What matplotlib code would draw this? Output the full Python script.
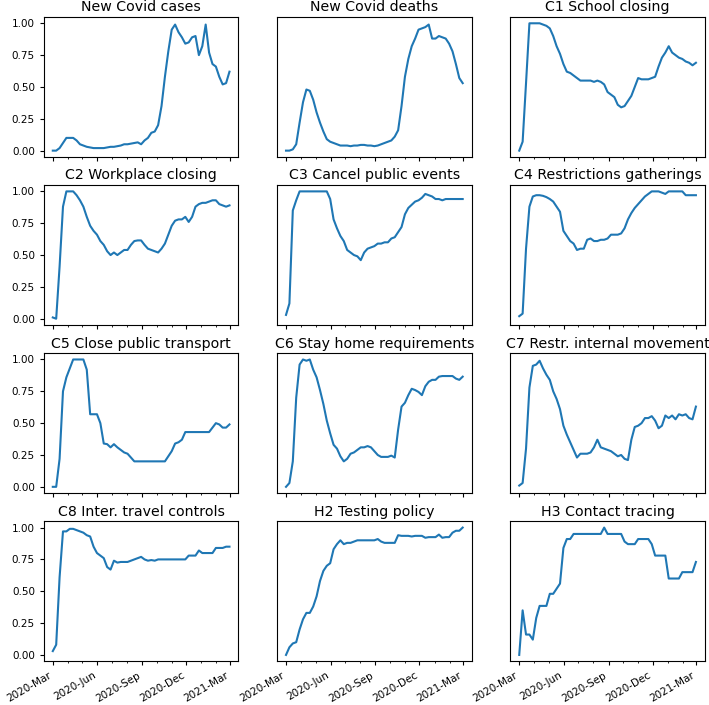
import matplotlib
matplotlib.use("Agg")
import matplotlib.pyplot as plt
import matplotlib.dates as mdates
import pandas as pd

# weekly samples, 2020-03-01 .. 2021-02-28
dates = pd.date_range("2020-03-01", periods=53, freq="7D")

new_cases = [0.00, 0.00, 0.02, 0.06, 0.10, 0.10, 0.10, 0.08, 0.05, 0.04,
             0.03, 0.025, 0.02, 0.02, 0.02, 0.02, 0.025, 0.03, 0.03, 0.035,
             0.04, 0.05, 0.05, 0.055, 0.06, 0.065, 0.05, 0.08, 0.10, 0.14,
             0.15, 0.20, 0.35, 0.58, 0.78, 0.95, 0.99, 0.93, 0.89, 0.84,
             0.85, 0.89, 0.90, 0.75, 0.82, 0.99, 0.77, 0.68, 0.66, 0.58,
             0.52, 0.53, 0.62]
new_deaths = [0.00, 0.00, 0.01, 0.05, 0.22, 0.38, 0.48, 0.47, 0.40, 0.30,
              0.22, 0.15, 0.09, 0.07, 0.06, 0.05, 0.04, 0.04, 0.04, 0.035,
              0.04, 0.04, 0.045, 0.045, 0.04, 0.04, 0.035, 0.04, 0.05, 0.06,
              0.07, 0.08, 0.11, 0.16, 0.35, 0.58, 0.72, 0.82, 0.88, 0.95,
              0.96, 0.97, 0.99, 0.88, 0.88, 0.90, 0.89, 0.88, 0.84, 0.78,
              0.68, 0.57, 0.53]
c1_school = [0.00, 0.07, 0.53, 1.00, 1.00, 1.00, 1.00, 0.99, 0.98, 0.96,
             0.90, 0.82, 0.76, 0.68, 0.62, 0.61, 0.59, 0.57, 0.55, 0.55,
             0.55, 0.55, 0.54, 0.55, 0.54, 0.52, 0.46, 0.44, 0.42, 0.36,
             0.34, 0.35, 0.39, 0.43, 0.50, 0.57, 0.56, 0.56, 0.56, 0.57,
             0.58, 0.66, 0.73, 0.77, 0.82, 0.77, 0.75, 0.73, 0.72, 0.70,
             0.69, 0.67, 0.69]
c2_workplace = [0.01, 0.00, 0.41, 0.88, 1.00, 1.00, 1.00, 0.97, 0.93, 0.88,
                0.80, 0.73, 0.69, 0.66, 0.61, 0.58, 0.53, 0.50, 0.52, 0.50,
                0.52, 0.54, 0.54, 0.58, 0.61, 0.615, 0.615, 0.58, 0.55, 0.54,
                0.53, 0.52, 0.55, 0.59, 0.66, 0.73, 0.77, 0.78, 0.78, 0.80,
                0.76, 0.80, 0.88, 0.90, 0.91, 0.91, 0.92, 0.93, 0.93, 0.90,
                0.89, 0.88, 0.89]
c3_events = [0.03, 0.12, 0.85, 0.93, 1.00, 1.00, 1.00, 1.00, 1.00, 1.00,
             1.00, 1.00, 1.00, 0.94, 0.78, 0.71, 0.65, 0.61, 0.54, 0.52,
             0.50, 0.49, 0.46, 0.52, 0.55, 0.56, 0.57, 0.59, 0.59, 0.60,
             0.60, 0.63, 0.64, 0.68, 0.72, 0.82, 0.87, 0.895, 0.92, 0.93,
             0.95, 0.98, 0.97, 0.96, 0.94, 0.94, 0.93, 0.94, 0.94, 0.94,
             0.94, 0.94, 0.94]
c4_gatherings = [0.02, 0.04, 0.55, 0.88, 0.96, 0.97, 0.97, 0.965, 0.955, 0.94,
                 0.92, 0.88, 0.84, 0.69, 0.65, 0.61, 0.59, 0.54, 0.55, 0.55,
                 0.62, 0.63, 0.61, 0.61, 0.62, 0.62, 0.63, 0.66, 0.66, 0.66,
                 0.67, 0.71, 0.78, 0.83, 0.87, 0.90, 0.93, 0.96, 0.98, 1.00,
                 1.00, 1.00, 0.99, 0.98, 1.00, 1.00, 1.00, 1.00, 1.00, 0.97,
                 0.97, 0.97, 0.97]
c5_transport = [0.00, 0.00, 0.22, 0.75, 0.86, 0.93, 1.00, 1.00, 1.00, 1.00,
                0.92, 0.57, 0.57, 0.57, 0.50, 0.34, 0.335, 0.31, 0.335, 0.31,
                0.29, 0.27, 0.26, 0.23, 0.20, 0.20, 0.20, 0.20, 0.20, 0.20,
                0.20, 0.20, 0.20, 0.20, 0.24, 0.28, 0.34, 0.35, 0.37, 0.43,
                0.43, 0.43, 0.43, 0.43, 0.43, 0.43, 0.43, 0.465, 0.50, 0.49,
                0.465, 0.465, 0.49]
c6_stay_home = [0.00, 0.03, 0.20, 0.70, 0.96, 1.00, 0.99, 1.00, 0.92, 0.86,
                0.76, 0.65, 0.52, 0.42, 0.33, 0.30, 0.24, 0.20, 0.22, 0.26,
                0.27, 0.29, 0.31, 0.31, 0.32, 0.31, 0.28, 0.25, 0.235, 0.235,
                0.235, 0.245, 0.23, 0.45, 0.63, 0.66, 0.72, 0.77, 0.76, 0.745,
                0.72, 0.79, 0.825, 0.84, 0.84, 0.865, 0.87, 0.87, 0.87, 0.87,
                0.85, 0.84, 0.865]
c7_movement = [0.01, 0.03, 0.30, 0.78, 0.95, 0.96, 0.99, 0.93, 0.88, 0.84,
               0.75, 0.69, 0.61, 0.48, 0.41, 0.35, 0.29, 0.23, 0.26, 0.26,
               0.26, 0.27, 0.31, 0.37, 0.31, 0.30, 0.29, 0.28, 0.26, 0.24,
               0.25, 0.22, 0.21, 0.37, 0.47, 0.48, 0.50, 0.54, 0.54, 0.555,
               0.52, 0.46, 0.48, 0.56, 0.54, 0.56, 0.53, 0.57, 0.56, 0.57,
               0.54, 0.53, 0.63]
c8_travel = [0.03, 0.08, 0.61, 0.97, 0.97, 0.99, 0.99, 0.98, 0.97, 0.96,
             0.94, 0.93, 0.85, 0.80, 0.78, 0.76, 0.69, 0.67, 0.74, 0.725,
             0.73, 0.73, 0.73, 0.74, 0.75, 0.76, 0.77, 0.75, 0.74, 0.745,
             0.74, 0.75, 0.75, 0.75, 0.75, 0.75, 0.75, 0.75, 0.75, 0.75,
             0.78, 0.78, 0.78, 0.82, 0.80, 0.80, 0.80, 0.80, 0.84, 0.84,
             0.84, 0.85, 0.85]
h2_testing = [0.00, 0.06, 0.09, 0.10, 0.20, 0.28, 0.33, 0.33, 0.38, 0.46,
              0.58, 0.66, 0.70, 0.72, 0.83, 0.87, 0.90, 0.87, 0.88, 0.88,
              0.89, 0.90, 0.90, 0.90, 0.90, 0.90, 0.90, 0.91, 0.89, 0.88,
              0.88, 0.88, 0.88, 0.94, 0.935, 0.935, 0.935, 0.93, 0.935, 0.935,
              0.935, 0.92, 0.925, 0.925, 0.925, 0.945, 0.92, 0.925, 0.925, 0.96,
              0.975, 0.975, 1.00]
h3_tracing = [0.00, 0.35, 0.16, 0.16, 0.12, 0.29, 0.385, 0.385, 0.385, 0.48,
              0.48, 0.52, 0.56, 0.84, 0.91, 0.91, 0.95, 0.95, 0.95, 0.95,
              0.95, 0.95, 0.95, 0.95, 0.95, 1.00, 0.95, 0.95, 0.95, 0.95,
              0.95, 0.89, 0.87, 0.87, 0.87, 0.91, 0.91, 0.91, 0.91, 0.87,
              0.78, 0.78, 0.78, 0.78, 0.60, 0.60, 0.60, 0.60, 0.65, 0.65,
              0.65, 0.65, 0.73]

titles = ["New Covid cases", "New Covid deaths", "C1 School closing",
          "C2 Workplace closing", "C3 Cancel public events", "C4 Restrictions gatherings",
          "C5 Close public transport", "C6 Stay home requirements", "C7 Restr. internal movement",
          "C8 Inter. travel controls", "H2 Testing policy", "H3 Contact tracing"]
series = [new_cases, new_deaths, c1_school,
          c2_workplace, c3_events, c4_gatherings,
          c5_transport, c6_stay_home, c7_movement,
          c8_travel, h2_testing, h3_tracing]

fig, axes = plt.subplots(4, 3, sharex=True, sharey=True, figsize=(7.09, 7.05), dpi=100)

for ax, title, values in zip(axes.flat, titles, series):
    ax.plot(dates, values)
    ax.set_title(title, fontsize=10.2, pad=4)
    ax.tick_params(labelsize=7.5, length=3)
    ax.tick_params(which="minor", length=1.5)

ax = axes[0, 0]
ax.set_yticks([0.0, 0.25, 0.5, 0.75, 1.0])
ax.xaxis.set_major_locator(mdates.MonthLocator(bymonth=[3, 6, 9, 12]))
ax.xaxis.set_minor_locator(mdates.MonthLocator())
ax.xaxis.set_major_formatter(mdates.DateFormatter("%Y-%b"))

# no y ticks on the inner columns
for ax in axes[:, 1:].flat:
    ax.tick_params(axis="y", left=False)

for ax in axes[-1]:
    for label in ax.get_xticklabels():
        label.set_rotation(30)
        label.set_ha("right")

fig.subplots_adjust(left=0.062, right=0.994, top=0.976, bottom=0.062, wspace=0.2, hspace=0.2)
fig.savefig("out.png", dpi=100)
